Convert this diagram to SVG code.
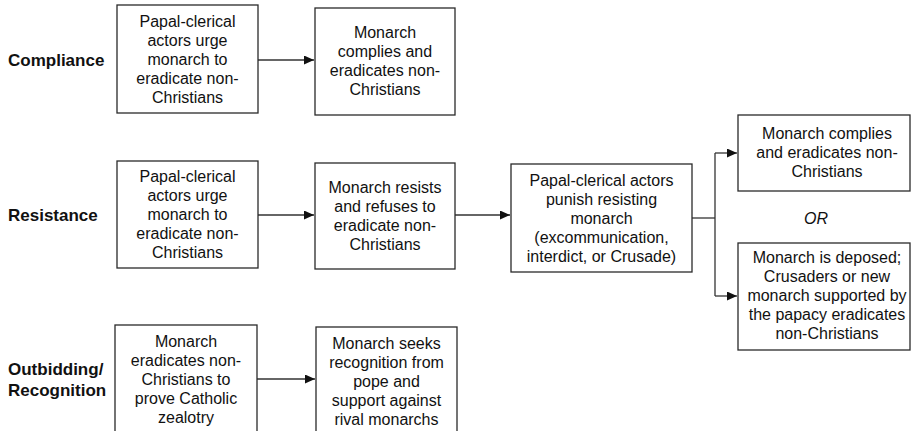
<svg xmlns="http://www.w3.org/2000/svg" width="911" height="431" viewBox="0 0 911 431">
<style>
.box{fill:#fff;stroke:#2a2a2a;stroke-width:1.3}
.t{font-family:"Liberation Sans",Arial,Helvetica,sans-serif;font-size:16px;fill:#111;text-anchor:middle}
.lbl{font-family:"Liberation Sans",Arial,Helvetica,sans-serif;font-size:17px;font-weight:bold;fill:#111}
.c{fill:none;stroke:#333;stroke-width:1.3}
</style>
<defs>
<marker id="ah" markerUnits="userSpaceOnUse" markerWidth="11" markerHeight="9" refX="10" refY="4.5" orient="auto">
<path d="M0,0 L10,4.5 L0,9 z" fill="#111"/>
</marker>
</defs>
<rect width="911" height="431" fill="#fff"/>

<g id="labels">
<text class="lbl" x="8" y="66">Compliance</text>
<text class="lbl" x="8" y="221">Resistance</text>
<text class="lbl" x="8" y="375">Outbidding/</text>
<text class="lbl" x="8" y="396">Recognition</text>
</g>

<g id="connectors">
<path class="c" d="M258 60 H314" marker-end="url(#ah)"/>
<path class="c" d="M258 215 H314" marker-end="url(#ah)"/>
<path class="c" d="M455 215 H510" marker-end="url(#ah)"/>
<path class="c" d="M257 379 H315" marker-end="url(#ah)"/>
<path class="c" d="M692 218 H715"/>
<path class="c" d="M715 153 V296"/>
<path class="c" d="M715 153 H737" marker-end="url(#ah)"/>
<path class="c" d="M715 296 H737" marker-end="url(#ah)"/>
</g>

<g id="c1">
<rect class="box" x="117" y="5" width="141" height="108"/>
<text class="t" x="187.5" y="26.5">Papal-clerical</text>
<text class="t" x="187.5" y="45.5">actors urge</text>
<text class="t" x="187.5" y="64.5">monarch to</text>
<text class="t" x="187.5" y="83.5">eradicate non-</text>
<text class="t" x="187.5" y="102.5">Christians</text>
</g>

<g id="c2">
<rect class="box" x="315" y="8" width="140" height="107"/>
<text class="t" x="385" y="38">Monarch</text>
<text class="t" x="385" y="57">complies and</text>
<text class="t" x="385" y="76">eradicates non-</text>
<text class="t" x="385" y="95">Christians</text>
</g>

<g id="r1">
<rect class="box" x="117" y="161" width="141" height="107"/>
<text class="t" x="187.5" y="182">Papal-clerical</text>
<text class="t" x="187.5" y="201">actors urge</text>
<text class="t" x="187.5" y="220">monarch to</text>
<text class="t" x="187.5" y="239">eradicate non-</text>
<text class="t" x="187.5" y="258">Christians</text>
</g>

<g id="r2">
<rect class="box" x="315" y="163" width="140" height="106"/>
<text class="t" x="385" y="193">Monarch resists</text>
<text class="t" x="385" y="212">and refuses to</text>
<text class="t" x="385" y="231">eradicate non-</text>
<text class="t" x="385" y="250">Christians</text>
</g>

<g id="r3">
<rect class="box" x="511" y="164" width="181" height="108"/>
<text class="t" x="601.5" y="185.5">Papal-clerical actors</text>
<text class="t" x="601.5" y="204.5">punish resisting</text>
<text class="t" x="601.5" y="223.5">monarch</text>
<text class="t" x="601.5" y="242.5">(excommunication,</text>
<text class="t" x="601.5" y="261.5">interdict, or Crusade)</text>
</g>

<g id="r4">
<rect class="box" x="738" y="115" width="172" height="76"/>
<text class="t" x="827" y="138.5">Monarch complies</text>
<text class="t" x="827" y="157.5">and eradicates non-</text>
<text class="t" x="827" y="176.5">Christians</text>
</g>

<g id="or">
<text class="t" x="816" y="223.5" font-style="italic">OR</text>
</g>

<g id="r5">
<rect class="box" x="738" y="243" width="172" height="107"/>
<text class="t" x="827" y="262.5">Monarch is deposed;</text>
<text class="t" x="827" y="281.5">Crusaders or new</text>
<text class="t" x="827" y="300.5">monarch supported by</text>
<text class="t" x="827" y="319.5">the papacy eradicates</text>
<text class="t" x="827" y="338.5">non-Christians</text>
</g>

<g id="o1">
<rect class="box" x="115" y="325" width="142" height="120"/>
<text class="t" x="186" y="346.5">Monarch</text>
<text class="t" x="186" y="365.5">eradicates non-</text>
<text class="t" x="186" y="384.5">Christians to</text>
<text class="t" x="186" y="403.5">prove Catholic</text>
<text class="t" x="186" y="422.5">zealotry</text>
</g>

<g id="o2">
<rect class="box" x="316" y="327" width="141" height="120"/>
<text class="t" x="386.5" y="348.5">Monarch seeks</text>
<text class="t" x="386.5" y="367.5">recognition from</text>
<text class="t" x="386.5" y="386.5">pope and</text>
<text class="t" x="386.5" y="405.5">support against</text>
<text class="t" x="386.5" y="424.5">rival monarchs</text>
</g>
</svg>
